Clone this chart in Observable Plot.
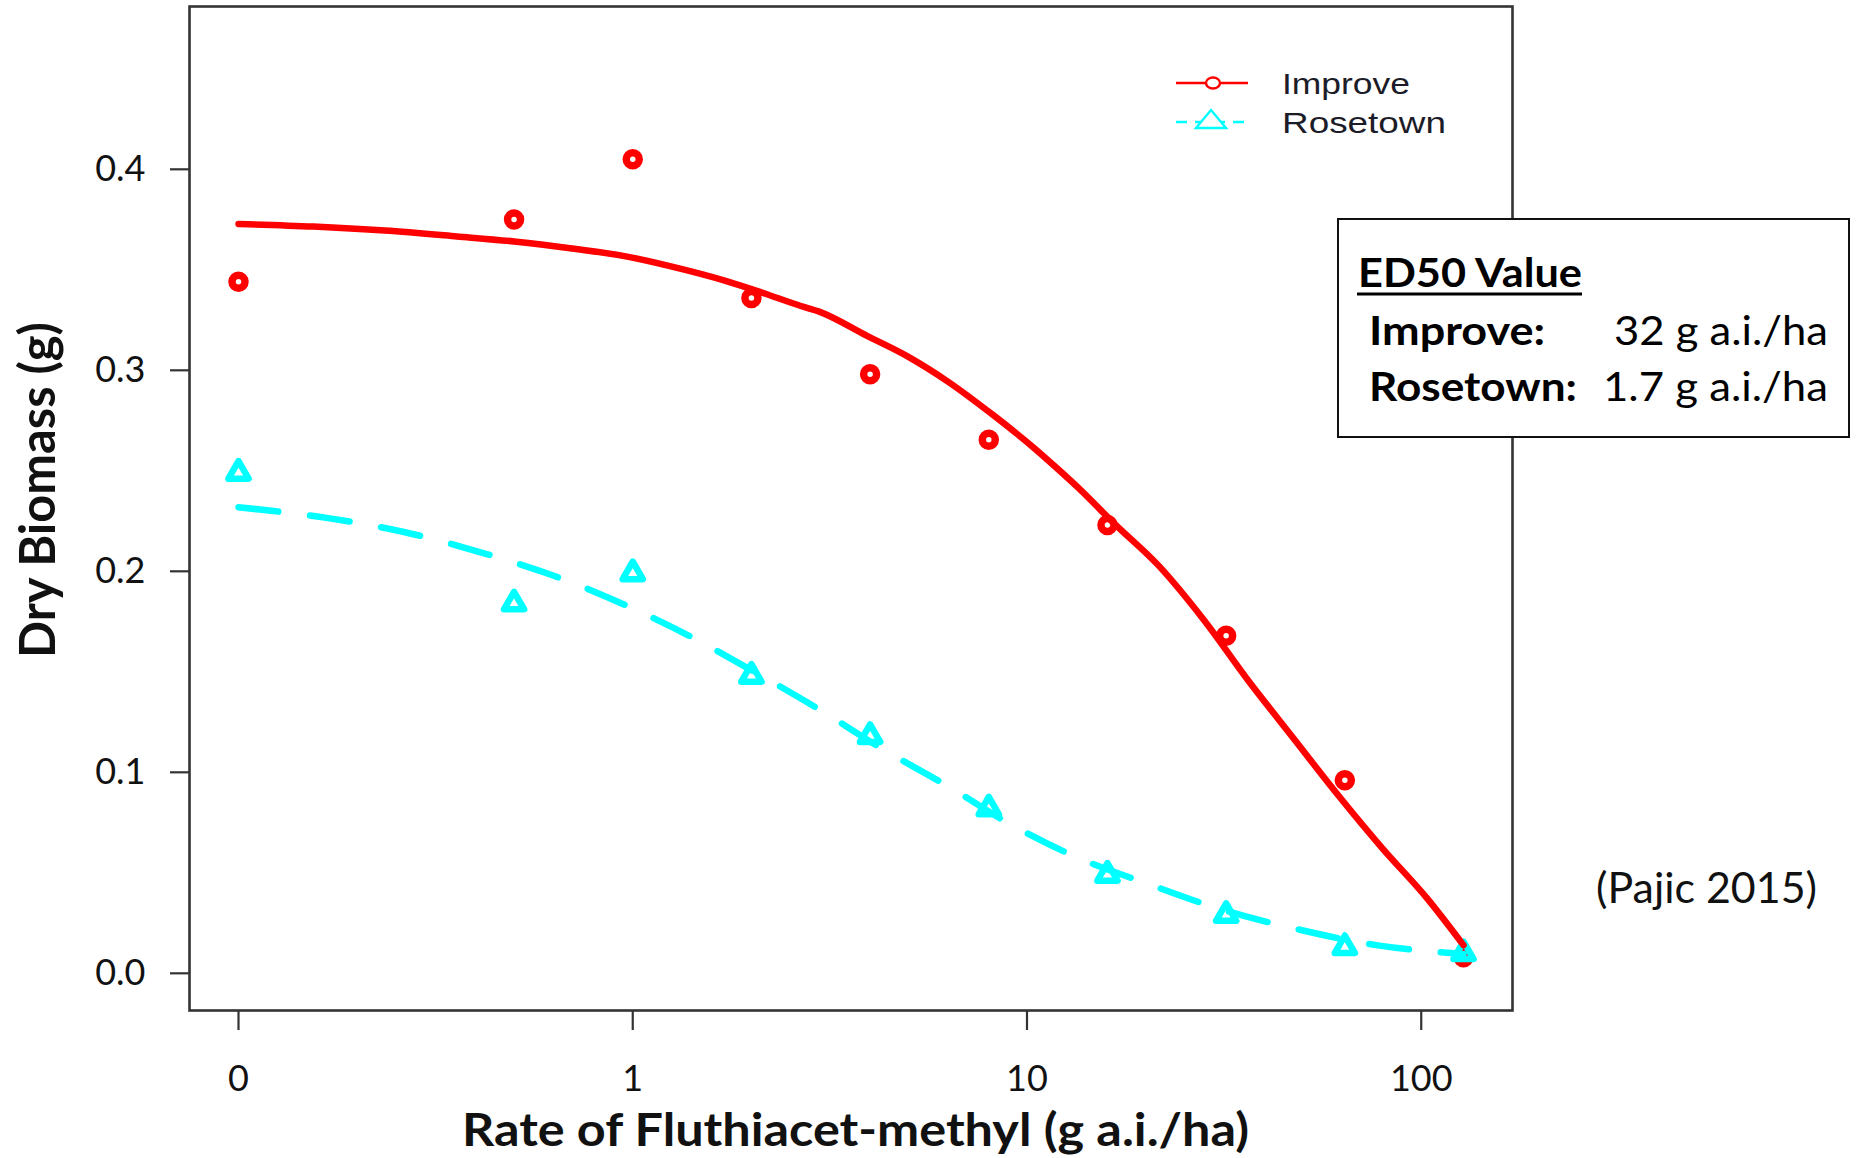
<!DOCTYPE html>
<html>
<head>
<meta charset="utf-8">
<script src="https://cdn.jsdelivr.net/npm/d3@7"></script>
<script src="https://cdn.jsdelivr.net/npm/@observablehq/plot@0.6"></script>
<style>
  html, body { margin: 0; padding: 0; background: #ffffff; }
  #wrap { width: 1856px; height: 1158px; overflow: hidden; }
</style>
</head>
<body>
<div id="wrap"></div>
<script>
// ---------- data ----------
const doses = [0, 0.5, 1, 2, 4, 8, 16, 32, 64, 128];          // g a.i./ha
const improveObs = [0.344, 0.375, 0.405, 0.336, 0.298, 0.2655, 0.223, 0.168, 0.096, 0.008];
const rosetownObs = [0.249, 0.184, 0.199, 0.148, 0.118, 0.082, 0.049, 0.029, 0.013, 0.010];

// fitted curves
const improveFitDose = [0.1, 0.155, 0.235, 0.358, 0.5, 0.71, 0.96, 1.25, 1.72, 2.11, 2.67, 2.96, 3.94, 4.99, 6.3, 8.2, 10.4, 11.8, 13.5, 16.6, 21.6, 28.1, 36.4, 47.3, 61.5, 79.6, 103.5, 128];
const improveFit     = [0.3728, 0.3715, 0.3695, 0.3666, 0.3641, 0.3605, 0.3567, 0.3517, 0.3445, 0.3389, 0.3320, 0.3293, 0.3170, 0.3068, 0.2944, 0.2778, 0.2615, 0.2520, 0.2415, 0.2240, 0.2027, 0.1758, 0.1457, 0.1172, 0.0887, 0.0623, 0.0373, 0.0140];
const rosetownFitDose = [0.1, 0.172, 0.261, 0.407, 0.62, 0.94, 1.39, 2.06, 2.96, 4.26, 6.4, 8.7, 13.1, 20.4, 31, 48.4, 77.6, 128];
const rosetownFit     = [0.2319, 0.2262, 0.2197, 0.2097, 0.1983, 0.1839, 0.1679, 0.1494, 0.1315, 0.1121, 0.0923, 0.0762, 0.0585, 0.0443, 0.0319, 0.0220, 0.0139, 0.0096];

const seriesNames = ["Improve", "Rosetown"];
const seriesColors = ["#ff0000", "#00ffff"];

const xTicks = [0.1, 1, 10, 100];
const xTickLabels = ["0", "1", "10", "100"];
const yTicks = [0, 0.1, 0.2, 0.3, 0.4];
const yTickLabels = ["0.0", "0.1", "0.2", "0.3", "0.4"];

const xTitle = "Rate of Fluthiacet-methyl (g a.i./ha)";
const yTitle = "Dry Biomass (g)";
const boxTitle = "ED50 Value";
const boxRows = [["Improve:", "32 g a.i./ha"], ["Rosetown:", "1.7 g a.i./ha"]];
const sourceNote = "(Pajic 2015)";

// zero dose is drawn at the "0" tick position of the log axis
const zeroAt = 0.1;
const pos = d => (d === 0 ? zeroAt : d);

const improvePts = doses.map((d, i) => ({x: pos(d), y: improveObs[i]}));
const rosetownPts = doses.map((d, i) => ({x: pos(d), y: rosetownObs[i]}));
const improveLine = improveFitDose.map((d, i) => ({x: d, y: improveFit[i]}));
const rosetownLine = rosetownFitDose.map((d, i) => ({x: d, y: rosetownFit[i]}));

// R-style 4% extension of the axis ranges
const xLo = Math.log10(0.1), xHi = Math.log10(128), xPad = 0.04 * (xHi - xLo);
const yLo = 0, yHi = 0.4625, yPad = 0.04 * (yHi - yLo);

const chart = Plot.plot({
  width: 1856,
  height: 1158,
  marginLeft: 189,
  marginRight: 344,
  marginTop: 6,
  marginBottom: 148,
  x: {type: "log", domain: [10 ** (xLo - xPad), 10 ** (xHi + xPad)]},
  y: {domain: [yLo - yPad, yHi + yPad]},
  style: {fontFamily: "Lato, 'Open Sans', sans-serif", fontSize: "36px", color: "#111", background: "#ffffff", overflow: "visible"},
  marks: [
    Plot.axisX({ticks: xTicks, tickFormat: d => xTickLabels[xTicks.indexOf(d)], tickSize: 20, tickPadding: 35, stroke: "#333", strokeWidth: 2.2, fill: "#111", label: null}),
    Plot.axisY({ticks: yTicks, tickFormat: d => yTickLabels[yTicks.indexOf(d)], tickSize: 19, tickPadding: 25, stroke: "#333", strokeWidth: 2.2, fill: "#111", label: null}),
    Plot.dot(improvePts, {x: "x", y: "y", r: 6.5, fill: "none", stroke: seriesColors[0], strokeWidth: 7.5}),
    Plot.dot(rosetownPts, {x: "x", y: "y", symbol: "triangle", r: 7.5, fill: "none", stroke: seriesColors[1], strokeWidth: 6.5, strokeLinejoin: "round"}),
    Plot.line(rosetownLine, {x: "x", y: "y", curve: "monotone-x", stroke: seriesColors[1], strokeWidth: 6.5, strokeDasharray: "40,32"}),
    Plot.line(improveLine, {x: "x", y: "y", curve: "monotone-x", stroke: seriesColors[0], strokeWidth: 6.5}),
    Plot.frame({stroke: "#333", strokeWidth: 2.6})
  ]
});

document.getElementById("wrap").appendChild(chart);

// ---------- annotations (titles, legend, ED50 box, source) ----------
const svg = d3.select(chart);
const g = svg.append("g")
  .attr("font-family", "Lato, 'Open Sans', sans-serif")
  .attr("fill", "#111")
  .attr("text-anchor", "start");

// x axis title
g.append("text").text(xTitle)
  .attr("x", 462).attr("y", 1146)
  .attr("font-size", 45).attr("font-weight", 700)
  .attr("textLength", 787).attr("lengthAdjust", "spacingAndGlyphs");

// y axis title
g.append("text").text(yTitle)
  .attr("transform", "translate(55,658) rotate(-90)")
  .attr("font-size", 50).attr("font-weight", 700)
  .attr("textLength", 336).attr("lengthAdjust", "spacingAndGlyphs");

// legend
const lg = svg.append("g").attr("text-anchor", "start");
const legendY = [83, 122];
const legendTextW = [128, 164];
lg.append("line").attr("x1", 1176).attr("x2", 1248).attr("y1", legendY[0]).attr("y2", legendY[0])
  .attr("stroke", seriesColors[0]).attr("stroke-width", 2.4);
lg.append("ellipse").attr("cx", 1213).attr("cy", legendY[0]).attr("rx", 7).attr("ry", 5.5)
  .attr("fill", "white").attr("stroke", seriesColors[0]).attr("stroke-width", 2.4);
lg.append("line").attr("x1", 1176).attr("x2", 1248).attr("y1", legendY[1]).attr("y2", legendY[1])
  .attr("stroke", seriesColors[1]).attr("stroke-width", 2.4).attr("stroke-dasharray", "11,8");
lg.append("path").attr("d", `M1211,${legendY[1] - 12} L1226,${legendY[1] + 6} L1196,${legendY[1] + 6} Z`)
  .attr("fill", "white").attr("stroke", seriesColors[1]).attr("stroke-width", 2.4);
seriesNames.forEach((name, i) => {
  lg.append("text").text(name)
    .attr("x", 1282).attr("y", legendY[i] + 11)
    .attr("font-family", "'Liberation Sans', Arial, sans-serif")
    .attr("font-size", 30).attr("fill", "#1c1c28")
    .attr("textLength", legendTextW[i]).attr("lengthAdjust", "spacingAndGlyphs");
});

// ED50 box
const bx = svg.append("g")
  .attr("font-family", "Lato, 'Open Sans', sans-serif")
  .attr("fill", "#000")
  .attr("text-anchor", "start");
bx.append("rect").attr("x", 1338).attr("y", 219).attr("width", 511).attr("height", 218)
  .attr("fill", "white").attr("stroke", "#111").attr("stroke-width", 2);
bx.append("text").text(boxTitle)
  .attr("x", 1358).attr("y", 287).attr("font-size", 41).attr("font-weight", 700)
  .attr("textLength", 224).attr("lengthAdjust", "spacingAndGlyphs");
bx.append("line").attr("x1", 1357).attr("x2", 1582).attr("y1", 294).attr("y2", 294)
  .attr("stroke", "#000").attr("stroke-width", 3);
const rowY = [345, 401];
const labelW = [176, 208];
const valueX = [1614, 1603];
const valueW = [214, 225];
boxRows.forEach((row, i) => {
  bx.append("text").text(row[0])
    .attr("x", 1369).attr("y", rowY[i]).attr("font-size", 41).attr("font-weight", 700)
    .attr("textLength", labelW[i]).attr("lengthAdjust", "spacingAndGlyphs");
  bx.append("text").text(row[1])
    .attr("x", valueX[i]).attr("y", rowY[i]).attr("font-size", 41).attr("font-weight", 400)
    .attr("textLength", valueW[i]).attr("lengthAdjust", "spacingAndGlyphs");
});

// source note
g.append("text").text(sourceNote)
  .attr("x", 1596).attr("y", 903).attr("font-size", 42).attr("font-weight", 400)
  .attr("textLength", 221).attr("lengthAdjust", "spacingAndGlyphs");
</script>
</body>
</html>
